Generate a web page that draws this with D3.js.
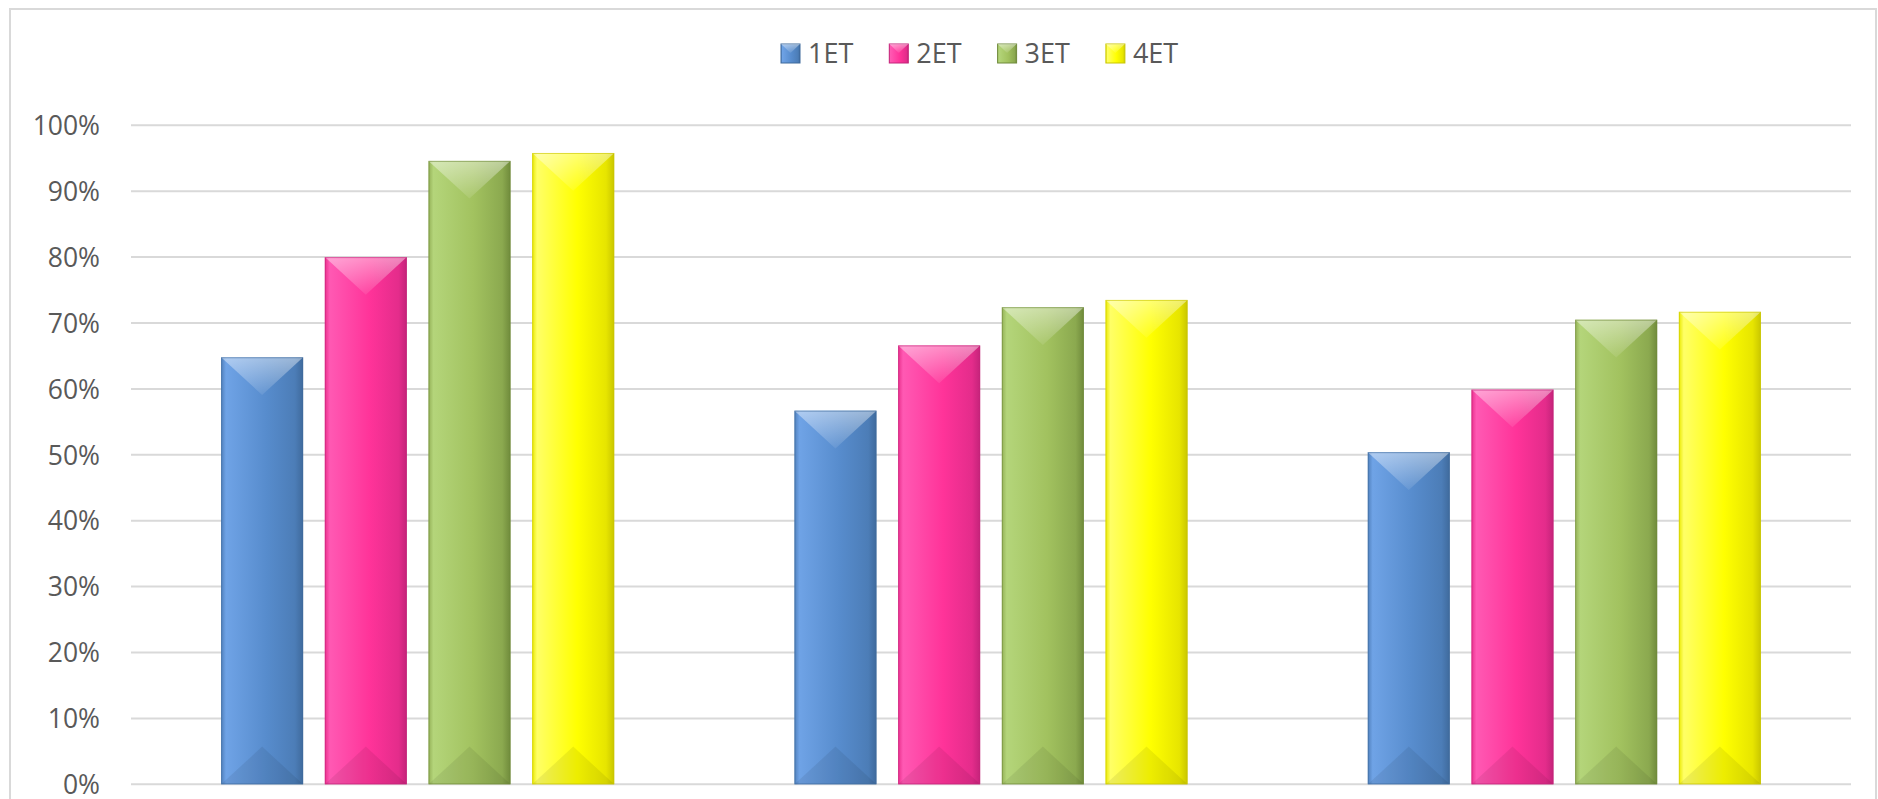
<!DOCTYPE html>
<html>
<head>
<meta charset="utf-8">
<script src="https://cdn.jsdelivr.net/npm/d3@7"></script>
<style>
  body { margin: 0; background: #fff; }
  text { font-family: "Open Sans", "Liberation Sans", sans-serif; fill: #595959; }
</style>
</head>
<body>
<div id="chart"></div>
<script>
var categories = ["Groupe 1", "Groupe 2", "Groupe 3"];
var series = ["1ET", "2ET", "3ET", "4ET"];
var values1ET = [0.648, 0.567, 0.504];
var values2ET = [0.800, 0.666, 0.599];
var values3ET = [0.946, 0.724, 0.705];
var values4ET = [0.958, 0.735, 0.717];
var yTicks = [0, 0.1, 0.2, 0.3, 0.4, 0.5, 0.6, 0.7, 0.8, 0.9, 1];

var seriesValues = [values1ET, values2ET, values3ET, values4ET];

// light / base / dark for each series
var colors = {
  "1ET": ["#6fa3e6", "#578ccd", "#3f6a9c"],
  "2ET": ["#ff59b3", "#ff3399", "#c4237a"],
  "3ET": ["#b4d57a", "#a2c25f", "#6f8a3b"],
  "4ET": ["#ffff66", "#ffff00", "#c9c600"]
};

var width = 1878, height = 799;
var plot = {left: 131, right: 1851, top: 125.3, bottom: 784.3};

var svg = d3.select("#chart").append("svg")
    .attr("width", width)
    .attr("height", height);

var defs = svg.append("defs");

series.forEach(function(s, i) {
  var c = colors[s];
  var g = defs.append("linearGradient")
      .attr("id", "side" + i)
      .attr("x1", "0").attr("x2", "1").attr("y1", "0").attr("y2", "0");
  g.append("stop").attr("offset", "0%").attr("stop-color", d3.color(c[1]).darker(0.25));
  g.append("stop").attr("offset", "6%").attr("stop-color", c[0]);
  g.append("stop").attr("offset", "55%").attr("stop-color", c[1]);
  g.append("stop").attr("offset", "90%").attr("stop-color", d3.interpolateRgb(c[1], c[2])(0.45));
  g.append("stop").attr("offset", "100%").attr("stop-color", c[2]);

  var t = defs.append("linearGradient")
      .attr("id", "top" + i)
      .attr("x1", "0").attr("x2", "0").attr("y1", "0").attr("y2", "1");
  t.append("stop").attr("offset", "0%").attr("stop-color", "#fff").attr("stop-opacity", 0.45);
  t.append("stop").attr("offset", "100%").attr("stop-color", "#fff").attr("stop-opacity", 0.08);
});

// chart border
svg.append("rect")
    .attr("x", 10).attr("y", 9)
    .attr("width", 1866).attr("height", 820)
    .attr("fill", "none")
    .attr("stroke", "#d9d9d9")
    .attr("stroke-width", 2);

var y = d3.scaleLinear()
    .domain([0, 1])
    .range([plot.bottom, plot.top]);

var x0 = d3.scaleBand()
    .domain(categories)
    .range([plot.left, plot.right]);

var x1 = d3.scaleBand()
    .domain(series)
    .range([0, x0.bandwidth()])
    .paddingInner(0.209)
    .paddingOuter(0.869);

// gridlines
svg.append("g")
  .selectAll("line")
  .data(yTicks)
  .enter().append("line")
    .attr("x1", plot.left).attr("x2", plot.right)
    .attr("y1", function(d) { return y(d); })
    .attr("y2", function(d) { return y(d); })
    .attr("stroke", "#d9d9d9")
    .attr("stroke-width", 2);

// y axis labels
var yAxis = svg.append("g")
    .attr("transform", "translate(" + (plot.left - 31) + ",0)")
    .call(d3.axisLeft(y).tickValues(yTicks).tickSize(0).tickPadding(0).tickFormat(d3.format(".0%")));
yAxis.select(".domain").remove();
yAxis.selectAll("text")
    .attr("font-size", "26.5px")
    .attr("font-family", "'Open Sans', 'Liberation Sans', sans-serif")
    .attr("fill", "#595959")
    .attr("dy", "0.35em");

// bars
var bars = [];
categories.forEach(function(cat, ci) {
  series.forEach(function(s, si) {
    bars.push({cat: cat, s: s, si: si, v: seriesValues[si][ci]});
  });
});

var barG = svg.append("g")
  .selectAll("g")
  .data(bars)
  .enter().append("g")
    .attr("transform", function(d) { return "translate(" + (x0(d.cat) + x1(d.s)) + "," + y(d.v) + ")"; });

var bw = x1.bandwidth();

barG.append("rect")
    .attr("width", bw)
    .attr("height", function(d) { return y(0) - y(d.v); })
    .attr("fill", function(d) { return "url(#side" + d.si + ")"; });

// top bevel
barG.append("path")
    .attr("d", "M0,0 L" + bw + ",0 L" + (bw / 2) + "," + (bw * 0.46) + " Z")
    .attr("fill", function(d) { return "url(#top" + d.si + ")"; });

// bottom bevel
barG.append("path")
    .attr("d", function(d) {
      var h = y(0) - y(d.v);
      return "M0," + h + " L" + bw + "," + h + " L" + (bw / 2) + "," + (h - bw * 0.46) + " Z";
    })
    .attr("fill", "#000")
    .attr("fill-opacity", 0.07);

barG.append("rect")
    .attr("x", 0.5).attr("y", 0.5)
    .attr("width", bw - 1)
    .attr("height", function(d) { return y(0) - y(d.v) - 1; })
    .attr("fill", "none")
    .attr("stroke", function(d) { return colors[d.s][2]; })
    .attr("stroke-opacity", 0.6)
    .attr("stroke-width", 1);

// legend
var legend = svg.append("g")
  .selectAll("g")
  .data(series)
  .enter().append("g")
    .attr("transform", function(d, i) { return "translate(" + (781 + i * 108.3) + ",44)"; });

legend.append("rect")
    .attr("width", 19).attr("height", 19)
    .attr("fill", function(d, i) { return "url(#side" + i + ")"; })
    .attr("stroke", function(d) { return colors[d][2]; })
    .attr("stroke-width", 1);

legend.append("path")
    .attr("d", "M0,0 L19,0 L9.5,9 Z")
    .attr("fill", function(d, i) { return "url(#top" + i + ")"; });

legend.append("text")
    .attr("x", 27)
    .attr("y", 9.5)
    .attr("dy", "0.35em")
    .attr("font-size", "27px")
    .text(function(d) { return d; });
</script>
</body>
</html>
